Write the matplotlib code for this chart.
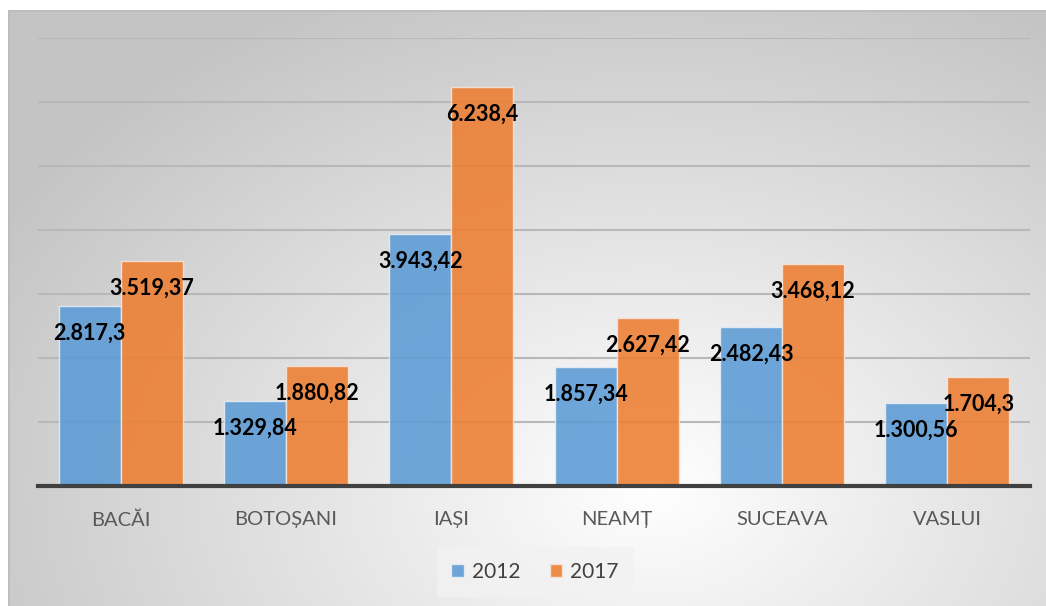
import numpy as np
import matplotlib
matplotlib.use("Agg")
import matplotlib.pyplot as plt

counties = ['BACĂI', 'BOTOȘANI', 'IAȘI', 'NEAMȚ', 'SUCEAVA', 'VASLUI']
v2012 = [2817.3, 1329.84, 3943.42, 1857.34, 2482.43, 1300.56]
v2017 = [3519.37, 1880.82, 6238.4, 2627.42, 3468.12, 1704.3]
lab2012 = ['2.817,3', '1.329,84', '3.943,42', '1.857,34', '2.482,43', '1.300,56']
lab2017 = ['3.519,37', '1.880,82', '6.238,4', '2.627,42', '3.468,12', '1.704,3']

W, H = 1046, 606
fig = plt.figure(figsize=(W / 100, H / 100), dpi=100, facecolor='white')

# gradient background of the chart box
bg = fig.add_axes([8 / W, 0, (W - 8) / W, (H - 10) / H])
bg.set_axis_off()
yy, xx = np.mgrid[0:1:300j, 0:1:500j]
r = np.sqrt(((xx - 0.62) / 0.75) ** 2 + ((yy - 0.2) / 0.95) ** 2)
g = np.clip(1.0 - 0.24 * r, 0.77, 1.0)
bg.imshow(np.dstack([g, g, g]), aspect='auto', extent=[0, 1, 0, 1], origin='lower')
bg.plot([0, 1], [1, 1], color='#bdbdbd', lw=2)
bg.plot([0, 0], [0, 1], color='#bdbdbd', lw=2)
bg.set_xlim(0, 1)
bg.set_ylim(0, 1)

ax = fig.add_axes([38 / W, (H - 486) / H, (1030 - 38) / W, (486 - 38) / H])
ax.patch.set_alpha(0)
x = np.arange(len(counties))
bw = 0.375
ax.bar(x - bw / 2, v2012, bw, color='#5B9BD5', alpha=0.88, edgecolor='#e8eef5', lw=1, label='2012', zorder=3)
ax.bar(x + bw / 2, v2017, bw, color='#ED7D31', alpha=0.88, edgecolor='#f5e6dc', lw=1, label='2017', zorder=3)

for xi, v, t in zip(x - bw / 2, v2012, lab2012):
    ax.annotate(t, (xi, v), xytext=(0, -19.5), textcoords='offset points', ha='center', va='center',
                fontsize=15.5, fontweight='bold', family='Lato', color='black', zorder=5)
for xi, v, t in zip(x + bw / 2, v2017, lab2017):
    ax.annotate(t, (xi, v), xytext=(0, -19.5), textcoords='offset points', ha='center', va='center',
                fontsize=15.5, fontweight='bold', family='Lato', color='black', zorder=5)

ax.set_xlim(-0.5, 5.5)
ax.set_ylim(0, 7000)
ax.set_yticks(np.arange(0, 7001, 1000))
ax.yaxis.grid(True, color='#b8b8b8', lw=1.5, zorder=0)
ax.set_yticklabels([])
ax.tick_params(axis='y', length=0)
ax.set_xticks(x)
ax.set_xticklabels(counties, fontsize=14.5, family='Lato', color='#595959')
ax.tick_params(axis='x', length=0, pad=18)
for s in ['top', 'right', 'left']:
    ax.spines[s].set_visible(False)
ax.spines['bottom'].set_color('#404040')
ax.spines['bottom'].set_linewidth(3)
ax.spines['bottom'].set_zorder(4)

leg = ax.legend(loc='center', bbox_to_anchor=(535 / W, 1 - 572 / H), bbox_transform=fig.transFigure,
                ncol=2, frameon=True, facecolor='#f2f2f2', edgecolor='none', fancybox=False,
                prop={'family': 'Lato', 'size': 15}, handlelength=0.6, handleheight=0.6,
                handletextpad=0.4, columnspacing=1.4, borderpad=0.7)
for t in leg.get_texts():
    t.set_color('#404040')

fig.savefig('out.png', dpi=100, facecolor='white')
